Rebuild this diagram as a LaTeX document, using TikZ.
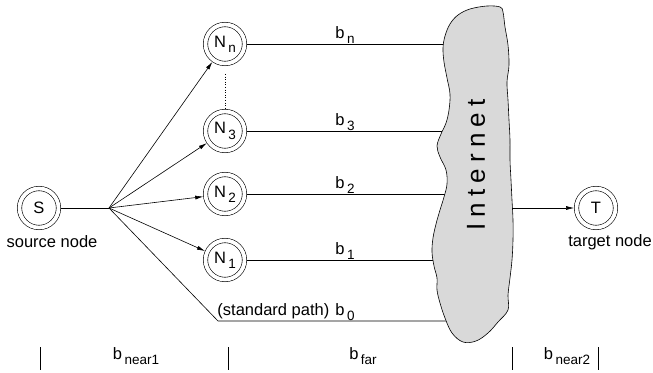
\documentclass[tikz,border=0pt]{standalone}
\usepackage{fontspec}
\setmainfont{Liberation Sans}
\usetikzlibrary{arrows.meta}
\newcommand\mysub[2]{#1\kern2.5pt\raisebox{-0.32em}{\fontsize{13.5}{13.5}\selectfont #2}}
\begin{document}
\begin{tikzpicture}[x=1pt,y=-1pt,
  every node/.style={font=\fontsize{16.5}{17}\selectfont},
  state/.style={circle,draw,double,double distance=3.8pt,line width=0.6pt,minimum size=39pt,inner sep=0pt,outer sep=2.4pt},
  conn/.style={line width=0.6pt},
  arr/.style={line width=0.6pt,-{Latex[length=8pt,width=4pt]}},
  tick/.style={line width=0.6pt}]
\useasboundingbox (0,0) rectangle (653,372);
% nodes
\node[state] (S) at (39,208) {S};
\node[state] (Nn) at (225,44) {\mysub{N}{n}};
\node[state] (N3) at (225,131) {\mysub{N}{3}};
\node[state] (N2) at (225,194) {\mysub{N}{2}};
\node[state] (N1) at (225,260) {\mysub{N}{1}};
\node[state] (T) at (596,208) {T};
\node (slbl) at (52,242) {source node};
\node (tlbl) at (610,242) {target node};
% fan point and cloud coordinates
\coordinate (F) at (109,208);
\coordinate (Pb) at (218,321);
\coordinate (Cn) at (445,44);
\coordinate (C3) at (442,131);
\coordinate (C2) at (446,194);
\coordinate (C1) at (436,260);
\coordinate (C0) at (446,321);
\coordinate (Cout) at (512,208);
% connectors
\draw[conn] (S) -- (F);
\draw[arr] (F) -- (Nn);
\draw[arr] (F) -- (N3);
\draw[arr] (F) -- (N2);
\draw[arr] (F) -- (N1);
\draw[conn] (F) -- (Pb) -- (C0);
\draw[conn] (Nn) -- (Cn);
\draw[conn] (N3) -- (C3);
\draw[conn] (N2) -- (C2);
\draw[conn] (N1) -- (C1);
\draw[line width=0.6pt,dotted] ([yshift=-8pt]Nn.south) -- (N3.north);
% cloud
\draw[line width=0.6pt,fill=gray!30] plot[smooth cycle,tension=0.6] coordinates {
(500,7) (487,6) (470,9) (458,15) (450,24) (445,36) (443,48) (444,62) (447,78)
(450,94) (449,110) (446,123) (441,134) (437,146) (440,157) (446,170) (447,184)
(444,197) (440,210) (436,224) (433,238) (432,252) (434,266) (437,278) (437,290)
(440,303) (445,318) (452,333) (463,342) (476,341) (488,333) (498,322) (508,310)
(508,295) (510,278) (512,260) (513,240) (513,220) (512,200) (511,180) (510,160)
(510,140) (509,120) (508,100) (507,82) (509,65) (508,45) (505,27) (503,12)};
\node[rotate=90,font=\fontsize{26}{26}\selectfont\addfontfeatures{LetterSpace=24}] (inet) at (476,165) {Internet};
\draw[arr] (Cout) -- (T);
% edge labels
\node (bn) at (345,35) {\mysub{b}{n}};
\node (b3) at (345,122) {\mysub{b}{3}};
\node (b2) at (345,185) {\mysub{b}{2}};
\node (b1) at (345,251) {\mysub{b}{1}};
\node (b0) at (286,312) {(standard path)\kern6pt\mysub{b}{0}};
% bottom ruler
\coordinate (t1a) at (40,347); \coordinate (t1b) at (40,370);
\coordinate (t2a) at (228,347); \coordinate (t2b) at (228,370);
\coordinate (t3a) at (512,347); \coordinate (t3b) at (512,370);
\coordinate (t4a) at (598,347); \coordinate (t4b) at (598,370);
\draw[tick] (t1a) -- (t1b);
\draw[tick] (t2a) -- (t2b);
\draw[tick] (t3a) -- (t3b);
\draw[tick] (t4a) -- (t4b);
\node (bnear1) at (136,356) {\mysub{b}{near1}};
\node (bfar) at (363,356) {\mysub{b}{far}};
\node (bnear2) at (567,356) {\mysub{b}{near2}};
\end{tikzpicture}
\end{document}
